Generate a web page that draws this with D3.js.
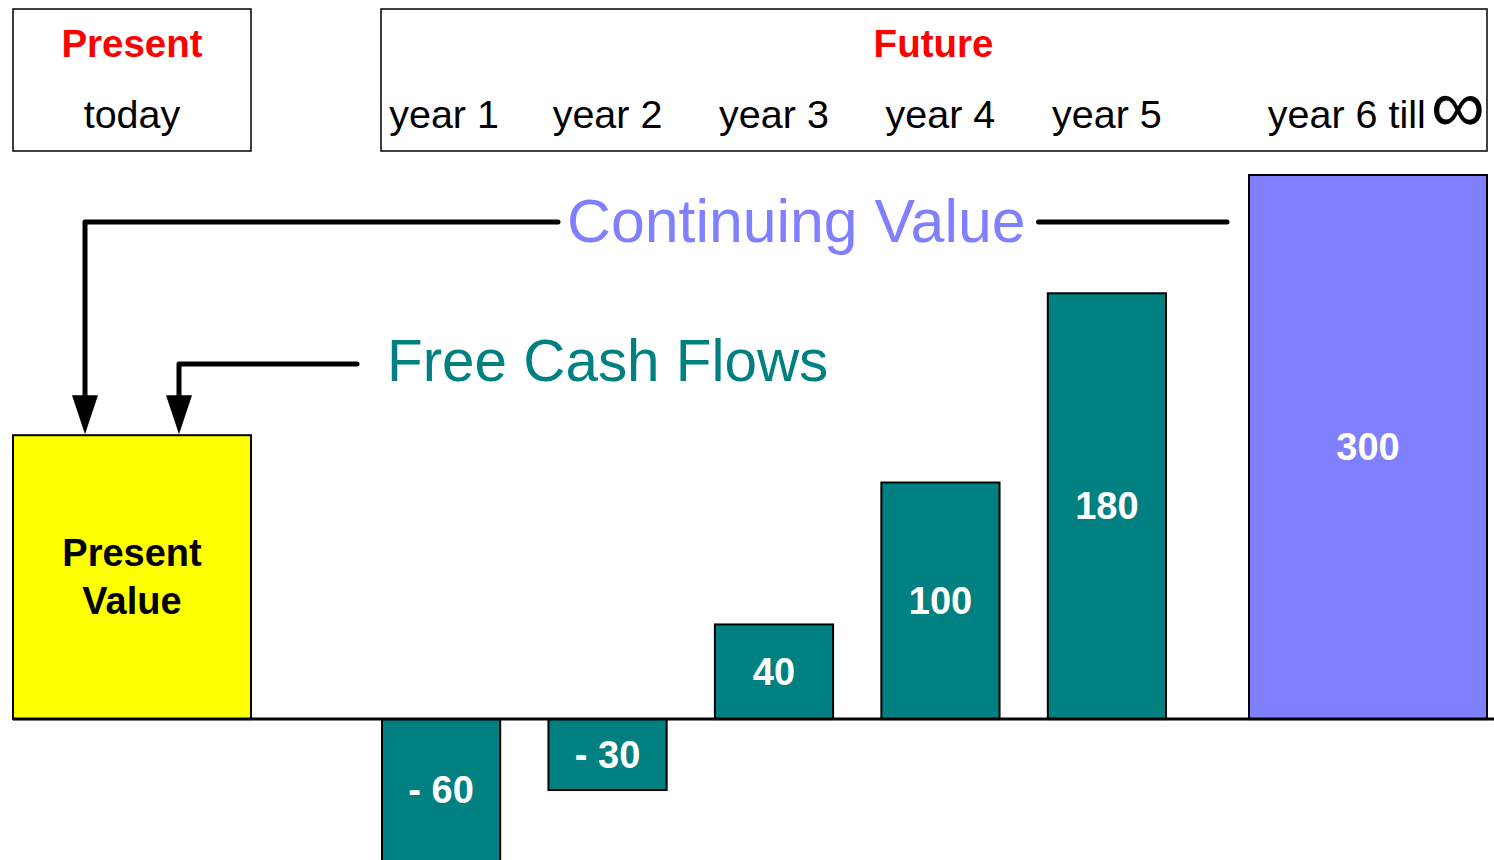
<!DOCTYPE html>
<html lang="en">
<head>
    <meta charset="UTF-8">
    <title>present value of free cash flows</title>
    <script src="https://d3js.org/d3.v7.min.js"></script>
    <style>
        body { margin: 0; background: #fff; }
        text { font-family: "Liberation Sans", Arial, sans-serif; }
    </style>
</head>
<body>
    <svg></svg>
    <script>
        const width = 1494;
        const height = 860;

        // data
        const categories = ["today", "year 1", "year 2", "year 3", "year 4", "year 5", "year 6 till"];
        const values = [120, -60, -30, 40, 100, 180, 300];
        const barLabels = [["Present", "Value"], ["- 60"], ["- 30"], ["40"], ["100"], ["180"], ["300"]];
        const groupTitles = ["Present", "Future"];

        const teal = "#008080";
        const colors = ["#ffff00", teal, teal, teal, teal, teal, "#8080ff"];

        const svg = d3.select("svg")
            .attr("width", width)
            .attr("height", height);

        // y: the plot stops at the top, so the continuing value bar is cut off
        const y = d3.scaleLinear()
            .domain([-60, 230])
            .range([861, 175])
            .clamp(true);

        // x: years 1-5 share a band, today and year 6 are wide columns
        const years = categories.slice(1, 6);
        const xYears = d3.scaleBand()
            .domain(years)
            .range([382, 1166])
            .paddingInner(0.29);
        const wideW = 238;
        const presentX = 13;
        const futureRight = 1487;

        const colX = c => c === categories[0] ? presentX
            : c === categories[6] ? futureRight - wideW
            : xYears(c);
        const colW = c => (c === categories[0] || c === categories[6]) ? wideW : xYears.bandwidth();

        const data = categories.map((c, i) => ({ cat: c, value: values[i], label: barLabels[i], color: colors[i] }));

        // header boxes
        const head = svg.append("g");
        head.append("rect")
            .attr("x", presentX).attr("y", 9)
            .attr("width", wideW).attr("height", 142)
            .attr("fill", "none").attr("stroke", "#000").attr("stroke-width", 1.5);
        head.append("rect")
            .attr("x", xYears.range()[0] - 1).attr("y", 9)
            .attr("width", futureRight - xYears.range()[0] + 1).attr("height", 142)
            .attr("fill", "none").attr("stroke", "#000").attr("stroke-width", 1.5);

        head.append("text")
            .attr("x", presentX + wideW / 2).attr("y", 57)
            .attr("text-anchor", "middle")
            .attr("font-size", 38.5).attr("font-weight", "bold").attr("fill", "#ff0000")
            .text(groupTitles[0]);
        head.append("text")
            .attr("x", (xYears.range()[0] + futureRight) / 2 - 1).attr("y", 57)
            .attr("text-anchor", "middle")
            .attr("font-size", 38.5).attr("font-weight", "bold").attr("fill", "#ff0000")
            .text(groupTitles[1]);

        head.selectAll("text.cat")
            .data(categories.slice(0, 6))
            .join("text")
            .attr("class", "cat")
            .attr("x", (d, i) => colX(d) + colW(d) / 2 + (i === 1 ? 3 : 0))
            .attr("y", 128)
            .attr("text-anchor", "middle")
            .attr("font-size", 39.5)
            .text(d => d);

        const last = head.append("text")
            .attr("x", futureRight - 2).attr("y", 128)
            .attr("text-anchor", "end")
            .attr("font-size", 39.5);
        last.append("tspan").text(categories[6]);
        last.append("tspan").attr("font-size", 76).attr("dx", 5).attr("dy", 4).text("\u221e");

        // bars
        const bars = svg.append("g");
        bars.selectAll("rect")
            .data(data)
            .join("rect")
            .attr("x", d => colX(d.cat))
            .attr("y", d => y(Math.max(0, d.value)))
            .attr("width", d => colW(d.cat))
            .attr("height", d => Math.abs(y(d.value) - y(0)))
            .attr("fill", d => d.color)
            .attr("stroke", "#000")
            .attr("stroke-width", 2);

        // baseline
        svg.append("line")
            .attr("x1", presentX).attr("x2", width)
            .attr("y1", y(0)).attr("y2", y(0))
            .attr("stroke", "#000").attr("stroke-width", 3);

        // bar labels
        const labels = svg.append("g");
        labels.selectAll("text")
            .data(data)
            .join("text")
            .attr("x", d => colX(d.cat) + colW(d.cat) / 2)
            .attr("y", d => (y(d.value) + y(0)) / 2)
            .attr("text-anchor", "middle")
            .attr("dominant-baseline", "central")
            .attr("font-size", 38)
            .attr("font-weight", "bold")
            .attr("fill", (d, i) => i === 0 ? "#000" : "#fff")
            .each(function(d) {
                const n = d.label.length;
                d3.select(this).selectAll("tspan")
                    .data(d.label)
                    .join("tspan")
                    .attr("x", colX(d.cat) + colW(d.cat) / 2)
                    .attr("dy", (t, j) => j === 0 ? -(n - 1) * 24 : 48)
                    .text(t => t);
            });

        // connectors
        const pvTop = y(values[0]);
        const conn = svg.append("g")
            .attr("fill", "none")
            .attr("stroke", "#000")
            .attr("stroke-width", 5)
            .attr("stroke-linecap", "round")
            .attr("stroke-linejoin", "round");

        const cvText = svg.append("text")
            .attr("x", 567).attr("y", 242)
            .attr("font-size", 60.8)
            .attr("fill", "#8080ff")
            .text("Continuing Value");
        const fcfText = svg.append("text")
            .attr("x", 387).attr("y", 381)
            .attr("font-size", 58.4)
            .attr("fill", teal)
            .text("Free Cash Flows");

        const cvBox = cvText.node().getBBox();
        const fcfBox = fcfText.node().getBBox();
        const cvY = 222, fcfY = 364;
        const a1 = presentX + 72, a2 = presentX + 166;
        const headLen = 38, headW = 13;

        conn.append("path")
            .attr("d", `M${cvBox.x - 9},${cvY} H${a1} V${pvTop - headLen}`);
        conn.append("path")
            .attr("d", `M${futureRight - wideW - 22},${cvY} H${cvBox.x + cvBox.width + 13}`);
        conn.append("path")
            .attr("d", `M${fcfBox.x - 30},${fcfY} H${a2} V${pvTop - headLen}`);

        svg.selectAll("path.head")
            .data([a1, a2])
            .join("path")
            .attr("class", "head")
            .attr("d", d => `M${d - headW},${pvTop - headLen - 2} L${d + headW},${pvTop - headLen - 2} L${d},${pvTop - 1} Z`)
            .attr("fill", "#000");
    </script>
</body>
</html>
